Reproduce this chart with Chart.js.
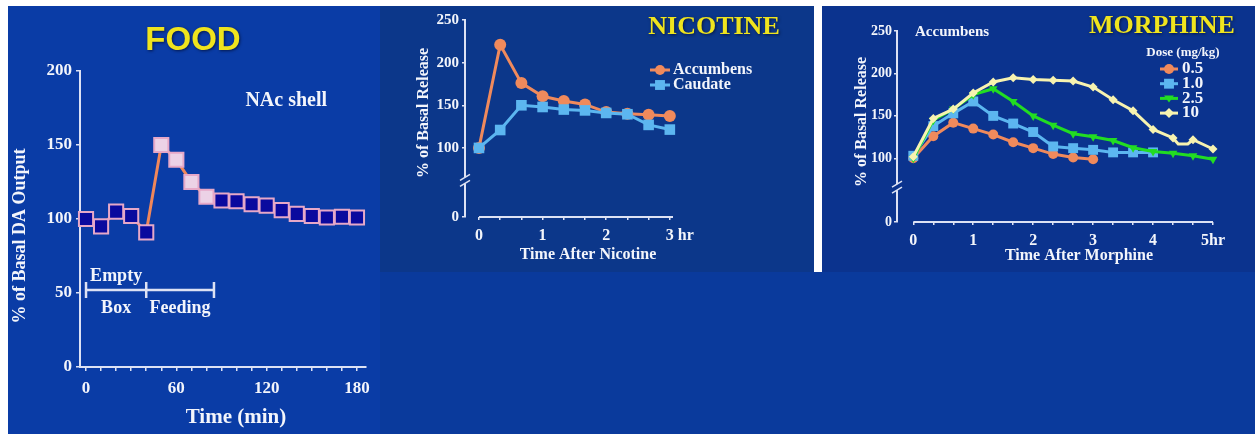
<!DOCTYPE html>
<html><head><meta charset="utf-8">
<script src="https://cdn.jsdelivr.net/npm/chart.js@4.4.1/dist/chart.umd.min.js"></script>
<style>
html,body{margin:0;padding:0;background:#ffffff;}
#stage{position:relative;width:1257px;height:434px;overflow:hidden;background:#fff}
.bg,canvas{position:absolute;display:block}
</style></head><body><div id="stage">
<div class="bg" style="left:8px;top:6px;width:1247px;height:428px;background:#0a3a9c"></div>
<div class="bg" style="left:8px;top:6px;width:372px;height:428px;background:#0a3ca6"></div>
<div class="bg" style="left:380px;top:6px;width:434px;height:266px;background:#0c378a"></div>
<div class="bg" style="left:814px;top:6px;width:8px;height:266px;background:#ffffff"></div>
<div class="bg" style="left:822px;top:6px;width:433px;height:266px;background:#0b338e"></div>
<canvas id="food" width="372" height="428" style="left:8px;top:6px"></canvas>
<canvas id="nic" width="434" height="266" style="left:380px;top:6px"></canvas>
<canvas id="mor" width="433" height="266" style="left:822px;top:6px"></canvas>
</div>
<script>
// ---------------- DATA ----------------
// FOOD panel
const foodTime = [0,10,20,30,40,50,60,70,80,90,100,110,120,130,140,150,160,170,180];
const foodDA   = [100,95,105,102,91,150,140,125,115,112.5,112,110,109,106,103.5,102,101,101.5,101];
const foodXTicks = [0,10,20,30,40,50,60,70,80,90,100,110,120,130,140,150,160,170,180];
const foodXLabelValues = [0,60,120,180];
const foodYTicks = [0,50,100,150,200];
const foodPeriodEdges = [0,40,85];
const foodPeriodUpper = ['Empty',''];
const foodPeriodLower = ['Box','Feeding'];
const foodBracketLevel = 52;

// NICOTINE panel
const nicTime = [0,1/3,2/3,1,4/3,5/3,2,7/3,8/3,3];
const nicAccumbens = [100,221,176,160.5,155,151,142,140,139,137.5];
const nicCaudate   = [100,121,150,148,145,144,141,139.5,127,121.5];
const nicXTicks  = [0,1/3,2/3,1,4/3,5/3,2,7/3,8/3,3];
const nicXLabels = ['0','','','1','','','2','','','3'];
const nicYTicks  = [19,100,150,200,250];
const nicYLabels = ['0','100','150','200','250'];
const nicSeriesNames = ['Accumbens','Caudate'];
const nicBreak = 62;

// MORPHINE panel
const morTime = [0,1/3,2/3,1,4/3,5/3,2,7/3,8/3,3,10/3,11/3,4,13/3,14/3,5];
const mor05 = [100,126,142,135,128,119,112,105,101,99];
const mor10 = [103,138,153,167,150,141,131,114,112,110,107,107,107];
const mor25 = [100,145,158,175,182,167,150,139,129,125.5,121,112.5,108,106,103,99];
const mor100Time = [0,1/3,2/3,1,4/3,5/3,2,7/3,8/3,3,10/3,11/3,4,13/3,4.42,4.58,14/3,5];
const mor100 = [102,147,158,177,190,195,193,192,191,184,169,156,134,124,117,117,122,111];
const morDoseLabels = ['0.5','1.0','2.5','10'];
const morXTicks  = morTime;
const morXLabels = ['0','','','1','','','2','','','3','','','4','','','5hr'];
const morYTicks  = [25,100,150,200,250];
const morYLabels = ['0','100','150','200','250'];
const morBreak = 66;

// ---------------- STYLE ----------------
const AXIS = '#dde2f4';
const WHITE = '#f3f5fb';
const YELLOW = '#efe41e';
const SERIF = "'Liberation Serif','Times New Roman',serif";
const SANS = "'Liberation Sans',Arial,sans-serif";
const C_ORANGE = '#f08a5c', C_BLUE = '#5cb6f0', C_GREEN = '#22dd22', C_CREAM = '#f7f3b0';

function text(ctx, s, x, y, size, o = {}) {
  ctx.save();
  ctx.font = `bold ${size}px ${o.family || SERIF}`;
  ctx.fillStyle = o.color || WHITE;
  ctx.textAlign = o.align || 'center';
  ctx.textBaseline = 'middle';
  ctx.translate(x, y);
  if (o.rotate) ctx.rotate(o.rotate);
  if (o.sx) ctx.scale(o.sx, 1);
  if (o.shadow) { ctx.shadowColor = 'rgba(0,0,20,0.6)'; ctx.shadowBlur = 3; ctx.shadowOffsetX = 1; ctx.shadowOffsetY = 1; }
  ctx.fillText(s, 0, 0);
  ctx.restore();
}

function marker(ctx, style, x, y, r, fill) {
  ctx.save();
  ctx.fillStyle = fill; ctx.strokeStyle = fill; ctx.lineWidth = 1;
  ctx.beginPath();
  if (style === 'circle') ctx.arc(x, y, r, 0, Math.PI * 2);
  else if (style === 'rect') { const h = r * Math.SQRT1_2; ctx.rect(x - h, y - h, 2 * h, 2 * h); }
  else if (style === 'triangleDown') { ctx.moveTo(x - r, y - r * 0.6); ctx.lineTo(x + r, y - r * 0.6); ctx.lineTo(x, y + r * 0.8); ctx.closePath(); }
  else if (style === 'rectRot') { ctx.moveTo(x, y - r); ctx.lineTo(x + r, y); ctx.lineTo(x, y + r); ctx.lineTo(x - r, y); ctx.closePath(); }
  ctx.fill();
  ctx.restore();
}

function scaleOpts({min, max, size, tickVals, labels, fontSize, tl, pad, border = true}) {
  return {
    type: 'linear', min, max,
    afterFit: s => { if (s.isHorizontal()) s.height = size; else s.width = size; },
    afterBuildTicks: s => { s.ticks = tickVals.map(v => ({value: v})); },
    ticks: {autoSkip: false, maxRotation: 0, minRotation: 0, padding: pad, color: WHITE,
      font: {family: SERIF, weight: 'bold', size: fontSize},
      callback: (v, i) => labels[i]},
    grid: {display: true, drawOnChartArea: false, drawTicks: true, tickLength: tl, color: AXIS, lineWidth: 1.5},
    border: {display: border, color: AXIS, width: 2}
  };
}

function drawBreak(ctx, chart, val, bg) {
  const ys = chart.scales.y;
  const px = chart.chartArea.left, py = ys.getPixelForValue(val);
  ctx.save();
  ctx.fillStyle = bg; ctx.fillRect(px - 3, py - 3, 6, 6);
  ctx.strokeStyle = AXIS; ctx.lineWidth = 1.5;
  for (const d of [-3, 3]) { ctx.beginPath(); ctx.moveTo(px - 5, py + d + 3); ctx.lineTo(px + 5, py + d - 3); ctx.stroke(); }
  ctx.restore();
}

function drawXLine(ctx, chart, from, to) {
  const xs = chart.scales.x, yb = chart.chartArea.bottom;
  ctx.save(); ctx.strokeStyle = AXIS; ctx.lineWidth = 2;
  ctx.beginPath(); ctx.moveTo(xs.getPixelForValue(from), yb); ctx.lineTo(xs.getPixelForValue(to), yb); ctx.stroke();
  ctx.restore();
}

const common = {responsive: false, animation: false, devicePixelRatio: 1,
  plugins: {legend: {display: false}, tooltip: {enabled: false}}};

// ---------------- FOOD ----------------
new Chart(document.getElementById('food'), {
  type: 'line',
  data: {datasets: [{
    data: foodTime.map((t, i) => ({x: t, y: foodDA[i]})),
    borderColor: '#f0875a', borderWidth: 3, tension: 0, clip: false,
    pointStyle: 'rect', pointRadius: 10, pointBorderWidth: 2, pointBorderColor: '#e6a8c8',
    pointBackgroundColor: foodTime.map(t => (t > foodPeriodEdges[1] && t <= foodPeriodEdges[2]) ? '#ecd2e6' : '#0a0a9e')
  }]},
  options: Object.assign({}, common, {
    layout: {padding: {left: 0, top: 65, right: 14, bottom: 0}},
    scales: {
      x: scaleOpts({min: -4, max: 186, size: 67, tickVals: foodXTicks,
        labels: foodXTicks.map(v => foodXLabelValues.includes(v) ? String(v) : ''), fontSize: 17, tl: 4, pad: 7}),
      y: scaleOpts({min: 0, max: 200, size: 72, tickVals: foodYTicks,
        labels: foodYTicks.map(String), fontSize: 17, tl: 4, pad: 4})
    }
  }),
  plugins: [{id: 'foodText', afterDraw(chart) {
    const {ctx} = chart, {x, y} = chart.scales;
    text(ctx, 'FOOD', 185, 35, 33, {family: SANS, color: YELLOW, shadow: true});
    text(ctx, 'NAc shell', x.getPixelForValue(133), y.getPixelForValue(180), 20);
    text(ctx, '% of Basal DA Output', 12, 230, 18, {rotate: -Math.PI / 2});
    text(ctx, 'Time (min)', 228, 412, 21);
    const yb = y.getPixelForValue(foodBracketLevel);
    const xs = foodPeriodEdges.map(v => x.getPixelForValue(v));
    ctx.save(); ctx.strokeStyle = AXIS; ctx.lineWidth = 2.5;
    ctx.beginPath(); ctx.moveTo(xs[0], yb); ctx.lineTo(xs[xs.length - 1], yb);
    xs.forEach(px => { ctx.moveTo(px, yb - 8); ctx.lineTo(px, yb + 8); });
    ctx.stroke(); ctx.restore();
    for (let i = 0; i < xs.length - 1; i++) {
      const cx = (xs[i] + xs[i + 1]) / 2;
      if (foodPeriodUpper[i]) text(ctx, foodPeriodUpper[i], cx, yb - 14, 18);
      if (foodPeriodLower[i]) text(ctx, foodPeriodLower[i], cx, yb + 18, 18);
    }
  }}]
});

// ---------------- NICOTINE ----------------
const nicColors = [C_ORANGE, C_BLUE];
const nicStyles = ['circle', 'rect'];
new Chart(document.getElementById('nic'), {
  type: 'line',
  data: {datasets: [
    {data: nicTime.map((t, i) => ({x: t, y: nicAccumbens[i]})), borderColor: C_ORANGE, backgroundColor: C_ORANGE,
     borderWidth: 3, pointStyle: 'circle', pointRadius: 6, pointBorderWidth: 0, order: 1, clip: false},
    {data: nicTime.map((t, i) => ({x: t, y: nicCaudate[i]})), borderColor: C_BLUE, backgroundColor: C_BLUE,
     borderWidth: 3, pointStyle: 'rect', pointRadius: 7.5, pointBorderWidth: 0, order: 0, clip: false}
  ]},
  options: Object.assign({}, common, {
    layout: {padding: {left: 0, top: 14, right: 141, bottom: 0}},
    scales: {
      x: scaleOpts({min: -0.22, max: 3.05, size: 55, tickVals: nicXTicks, labels: nicXLabels, fontSize: 16, tl: 3, pad: 6, border: false}),
      y: scaleOpts({min: 19, max: 250, size: 85, tickVals: nicYTicks, labels: nicYLabels, fontSize: 15, tl: 3, pad: 3})
    }
  }),
  plugins: [{id: 'nicText', afterDraw(chart) {
    const {ctx} = chart, {x} = chart.scales;
    drawXLine(ctx, chart, 0, 3.05);
    drawBreak(ctx, chart, nicBreak, '#0c378a');
    text(ctx, 'hr', x.getPixelForValue(3) + 8, x.top + 3 + 6 + 9.6, 16, {align: 'left'});
    text(ctx, 'NICOTINE', 334, 21, 26, {color: YELLOW, shadow: true});
    text(ctx, '% of Basal Release', 44, 107, 16, {rotate: -Math.PI / 2});
    text(ctx, 'Time After Nicotine', 208, 249, 16);
    nicSeriesNames.forEach((name, i) => {
      const ly = 64 + i * 15;
      ctx.save(); ctx.strokeStyle = nicColors[i]; ctx.lineWidth = 3;
      ctx.beginPath(); ctx.moveTo(270, ly); ctx.lineTo(290, ly); ctx.stroke(); ctx.restore();
      marker(ctx, nicStyles[i], 280, ly, i === 0 ? 5 : 7, nicColors[i]);
      text(ctx, name, 293, ly, 16, {align: 'left'});
    });
  }}]
});

// ---------------- MORPHINE ----------------
const morColors = [C_ORANGE, C_BLUE, C_GREEN, C_CREAM];
const morStyles = ['circle', 'rect', 'triangleDown', 'rectRot'];
const onGrid = t => Math.abs(t * 3 - Math.round(t * 3)) < 1e-6;
new Chart(document.getElementById('mor'), {
  type: 'line',
  data: {datasets: [
    {data: mor05.map((v, i) => ({x: morTime[i], y: v})), borderColor: C_ORANGE, backgroundColor: C_ORANGE,
     borderWidth: 3, pointStyle: 'circle', pointRadius: 5, pointBorderWidth: 0, order: 3, clip: false},
    {data: mor10.map((v, i) => ({x: morTime[i], y: v})), borderColor: C_BLUE, backgroundColor: C_BLUE,
     borderWidth: 3, pointStyle: 'rect', pointRadius: 7, pointBorderWidth: 0, order: 2, clip: false},
    {data: mor25.map((v, i) => ({x: morTime[i], y: v})), borderColor: C_GREEN, backgroundColor: C_GREEN,
     borderWidth: 3, pointStyle: 'triangle', rotation: 180, pointRadius: 5, pointBorderWidth: 0, order: 1, clip: false},
    {data: mor100.map((v, i) => ({x: mor100Time[i], y: v})), borderColor: C_CREAM, backgroundColor: C_CREAM,
     borderWidth: 3, pointStyle: 'rectRot', pointRadius: c => onGrid(mor100Time[c.dataIndex]) ? 4.5 : 0,
     pointBorderWidth: 0, order: 0, clip: false}
  ]},
  options: Object.assign({}, common, {
    layout: {padding: {left: 0, top: 25, right: 42, bottom: 0}},
    scales: {
      x: scaleOpts({min: -0.272, max: 5, size: 50, tickVals: morXTicks, labels: morXLabels, fontSize: 16, tl: 3, pad: 6, border: false}),
      y: scaleOpts({min: 25, max: 250, size: 75, tickVals: morYTicks, labels: morYLabels, fontSize: 14, tl: 3, pad: 2})
    }
  }),
  plugins: [{id: 'morText', afterDraw(chart) {
    const {ctx} = chart;
    drawXLine(ctx, chart, 0, 5);
    drawBreak(ctx, chart, morBreak, '#0b338e');
    text(ctx, 'MORPHINE', 340, 20, 26, {color: YELLOW, shadow: true});
    text(ctx, 'Accumbens', 93, 26, 15, {align: 'left'});
    text(ctx, '% of Basal Release', 40, 116, 16, {rotate: -Math.PI / 2});
    text(ctx, 'Time After Morphine', 257, 250, 16);
    text(ctx, 'Dose (mg/kg)', 361, 47, 13);
    morDoseLabels.forEach((lab, i) => {
      const ly = 63 + i * 14.7;
      ctx.save(); ctx.strokeStyle = morColors[i]; ctx.lineWidth = 3;
      ctx.beginPath(); ctx.moveTo(338, ly); ctx.lineTo(356, ly); ctx.stroke(); ctx.restore();
      marker(ctx, morStyles[i], 347, ly, i === 1 ? 7 : 5, morColors[i]);
      text(ctx, lab, 360, ly, 17, {align: 'left'});
    });
  }}]
});
</script></body></html>
